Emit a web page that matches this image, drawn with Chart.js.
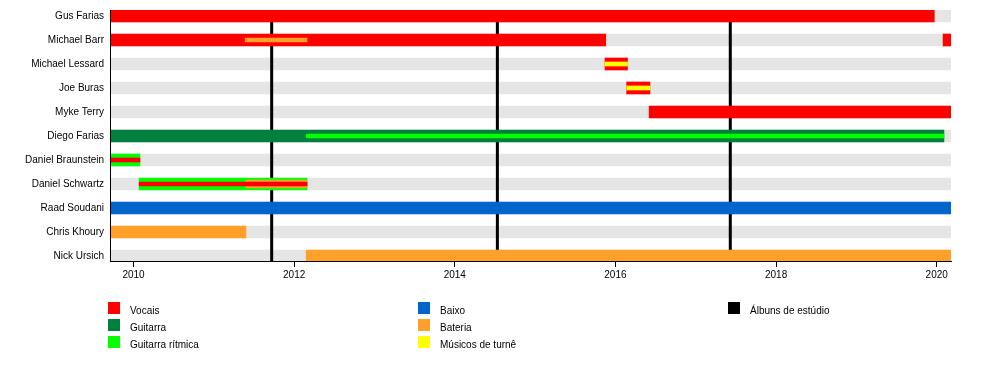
<!DOCTYPE html>
<html><head><meta charset="utf-8">
<script src="https://cdn.jsdelivr.net/npm/chart.js@4.4.1/dist/chart.umd.min.js"></script>
<style>
html,body{margin:0;padding:0;background:#fff;}
#wrap{position:relative;width:1000px;height:370px;}
#legend{position:absolute;left:0;top:0;width:1000px;height:370px;pointer-events:none;font-family:"Liberation Sans",Arial,sans-serif;font-size:10px;color:#000;}
.sw{position:absolute;width:12px;height:12px;}
.lb{position:absolute;line-height:12px;white-space:nowrap;}
</style></head>
<body><div id="wrap"><canvas id="c" width="1000" height="370"></canvas><div id="legend"></div></div>
<script>
// ---- data ----
const members = ["Gus Farias","Michael Barr","Michael Lessard","Joe Buras","Myke Terry","Diego Farias","Daniel Braunstein","Daniel Schwartz","Raad Soudani","Chris Khoury","Nick Ursich"];
const timelineStart = 2009.707;
const timelineEnd = 2020.178;
const yearTicks = [2010,2011,2012,2013,2014,2015,2016,2017,2018,2019,2020];
const albumYears = [2011.72, 2014.53, 2017.43];

const vocalsSpans = [["Gus Farias", timelineStart, 2019.97], ["Michael Barr", timelineStart, 2015.88], ["Michael Barr", 2020.08, timelineEnd], ["Michael Lessard", 2015.87, 2016.15], ["Joe Buras", 2016.14, 2016.43], ["Myke Terry", 2016.42, timelineEnd]];
const guitarSpans = [["Diego Farias", timelineStart, 2020.09]];
const rhythmSpans = [["Daniel Braunstein", timelineStart, 2010.08], ["Daniel Schwartz", 2010.07, 2012.16]];
const bassSpans = [["Raad Soudani", timelineStart, timelineEnd]];
const drumSpans = [["Chris Khoury", timelineStart, 2011.40], ["Nick Ursich", 2012.15, timelineEnd]];
// secondary roles drawn as stripes
const drumsMidStripe = [["Daniel Schwartz", 2011.40, 2012.16]];
const drumsThinStripe = [["Michael Barr", 2011.39, 2012.16]];
const rhythmStripe = [["Diego Farias", 2012.15, 2020.09]];
const vocalsStripe = [["Daniel Braunstein", timelineStart, 2010.08], ["Daniel Schwartz", 2010.07, 2012.16]];
const touringStripe = [["Michael Lessard", 2015.87, 2016.15], ["Joe Buras", 2016.14, 2016.43]];

const legendLabels = ["Vocais","Guitarra","Guitarra rítmica","Baixo","Bateria","Músicos de turnê","Álbuns de estúdio"];

// ---- styles ----
const C = {vocals:"#ff0000", guitar:"#00803d", rhythm:"#00ff00", bass:"#0066cc", drums:"#ffa02a", touring:"#ffff00", album:"#000000", bg:"#e5e5e5"};
const legendColors = [C.vocals, C.guitar, C.rhythm, C.bass, C.drums, C.touring, C.album];

const toPts = spans => spans.map(s => ({y: members.indexOf(s[0]), x: [s[1], s[2]]}));
const barDs = (spans, color, thick, order) => ({type:"bar", data: toPts(spans), backgroundColor: color, borderWidth: 0, barThickness: thick, grouped: false, order: order});

const datasets = [];
datasets.push(barDs(members.map(m => [m, timelineStart, timelineEnd]), C.bg, 12, 100));
albumYears.forEach(a => datasets.push({type:"line", data:[{x:a, y:-0.25},{x:a, y:10.21}], borderColor:C.album, borderWidth:3, pointRadius:0, order:90, indexAxis:"y"}));
datasets.push(barDs(vocalsSpans, C.vocals, 12, 50));
datasets.push(barDs(guitarSpans, C.guitar, 12, 50));
datasets.push(barDs(rhythmSpans, C.rhythm, 12, 50));
datasets.push(barDs(bassSpans, C.bass, 12, 50));
datasets.push(barDs(drumSpans, C.drums, 12, 50));
datasets.push(barDs(drumsMidStripe, C.drums, 8, 30));
datasets.push(barDs(drumsThinStripe, C.drums, 4, 20));
datasets.push(barDs(rhythmStripe, C.rhythm, 4, 20));
datasets.push(barDs(vocalsStripe, C.vocals, 4, 20));
datasets.push(barDs(touringStripe, C.touring, 4, 20));

const font = {family:'"Liberation Sans", Arial, sans-serif', size:10};

new Chart(document.getElementById("c"), {
  type: "bar",
  data: {datasets},
  options: {
    responsive: false, animation: false, indexAxis: "y",
    layout: {padding: {top: 10, right: 49, bottom: 79, left: 0}},
    plugins: {legend: {display: false}, tooltip: {enabled: false}},
    scales: {
      x: {
        type: "linear", position: "bottom", min: timelineStart, max: timelineEnd, offset: false,
        afterBuildTicks: s => { s.ticks = yearTicks.map(v => ({value: v})); },
        afterFit: s => { s.height = 30; s.paddingLeft = 0; s.paddingRight = 0; },
        ticks: {font, color:"#000", padding: 2, maxRotation: 0, autoSkip: false, z: 1,
          callback: v => (v % 2 === 0 ? String(v) : "")},
        grid: {drawOnChartArea: false, drawTicks: true, tickLength: 6, offset: false,
          tickColor: ctx => (ctx.tick && ctx.tick.value % 2 === 0 ? "#000" : "rgba(0,0,0,0)")},
        border: {display: true, color: "#000", width: 1, z: 1}
      },
      y: {
        type: "linear", reverse: true, min: -0.25, max: 10.21, offset: false,
        afterBuildTicks: s => { s.ticks = members.map((m, i) => ({value: i})); },
        afterFit: s => { s.width = 110; s.paddingTop = 0; s.paddingBottom = 0; },
        ticks: {font, color:"#000", padding: 6, autoSkip: false, z: 1, callback: v => members[v] ?? ""},
        grid: {display: false, drawTicks: false, offset: false},
        border: {display: true, color: "#000", width: 1, z: 1}
      }
    }
  }
});

// ---- HTML legend ----
const lg = document.getElementById("legend");
const colX = [108, 418, 728], rowY = [302, 319, 336];
legendLabels.forEach((t, i) => {
  const col = Math.floor(i / 3), row = i % 3;
  const sw = document.createElement("div"); sw.className = "sw";
  sw.style.left = colX[col] + "px"; sw.style.top = rowY[row] + "px"; sw.style.background = legendColors[i];
  const lb = document.createElement("div"); lb.className = "lb";
  lb.style.left = (colX[col] + 22) + "px"; lb.style.top = (rowY[row] + 3) + "px"; lb.textContent = t;
  lg.appendChild(sw); lg.appendChild(lb);
});
</script>
</body></html>
